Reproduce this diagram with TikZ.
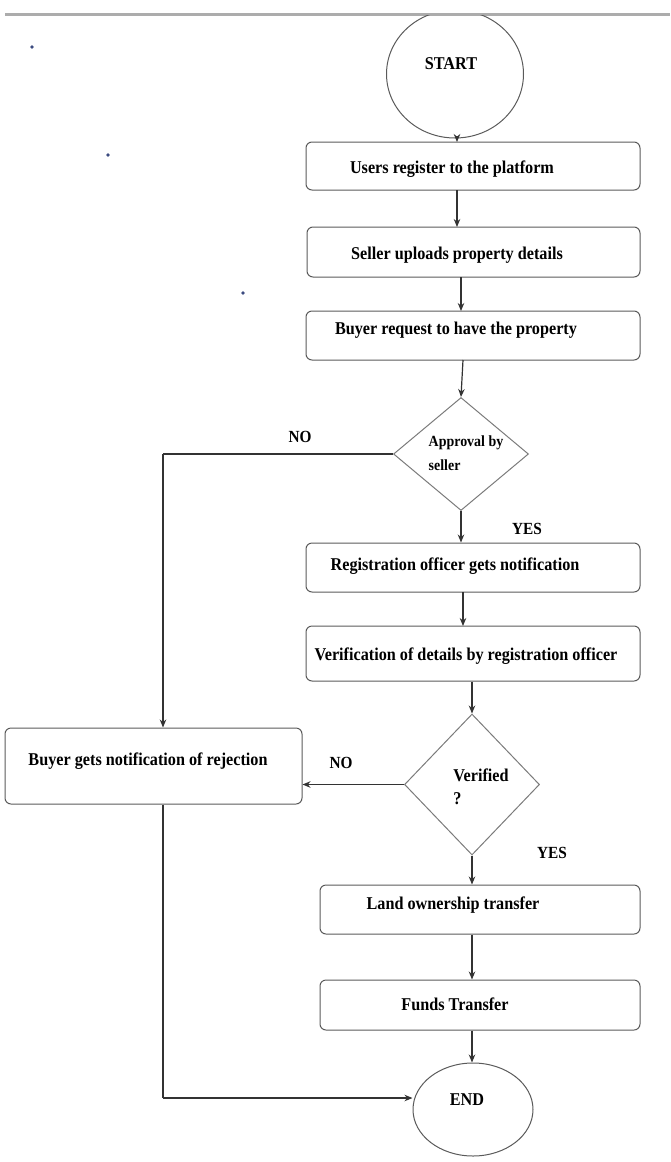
\documentclass[tikz,border=0pt]{standalone}
\usepackage{fontspec}
\setmainfont{Liberation Serif}[FakeStretch=0.9]
\usetikzlibrary{arrows.meta,shapes.geometric}
\definecolor{ln}{HTML}{333333}
\definecolor{bd}{HTML}{5A5A5A}
\definecolor{dotc}{HTML}{3B4A80}
\tikzset{
  stepbox/.style={draw=bd,line width=1pt,rounded corners=6pt,inner sep=0pt},
  term/.style={draw=bd,line width=1pt,ellipse,inner sep=0pt},
  decide/.style={draw=bd!80,line width=1pt,diamond,inner sep=0pt,aspect=1},
  txt/.style={inner sep=0pt,font=\bfseries\fontsize{18}{20}\selectfont},
  dtxt/.style={inner sep=0pt,align=left},
  conn/.style={draw=ln,line width=1.2pt,-{Stealth[length=8pt,width=6.5pt]}},
  plain/.style={draw=ln,line width=1.2pt},
  lbl/.style={inner sep=0pt,font=\bfseries\fontsize{17}{19}\selectfont},
}
\begin{document}
\begin{tikzpicture}[x=1pt,y=-1pt]
\useasboundingbox (0,0) rectangle (670,1162);
\draw[gray!65,line width=3pt] (5,14) -- (670,14);
\fill[dotc] (32,47) circle (1.8) (108,155) circle (1.8) (243,293) circle (1.8);
% shapes
\begin{scope}
\clip (0,15.5) rectangle (670,1162);
\node[term,minimum width=137pt,minimum height=128pt] (start) at (455,74) {};
\end{scope}
\node[stepbox,minimum width=334pt,minimum height=48pt] (b1) at (473,166) {};
\node[stepbox,minimum width=333pt,minimum height=50pt] (b2) at (473.5,252) {};
\node[stepbox,minimum width=334pt,minimum height=49pt] (b3) at (473,335.5) {};
\node[decide,minimum width=135pt,minimum height=113pt] (d1) at (461,454) {};
\node[stepbox,minimum width=334pt,minimum height=49pt] (b4) at (473,567.5) {};
\node[stepbox,minimum width=334pt,minimum height=55pt] (b5) at (473,653.5) {};
\node[decide,minimum width=135pt,minimum height=141pt] (d2) at (472,784.5) {};
\node[stepbox,minimum width=297pt,minimum height=76pt] (rej) at (153.5,766) {};
\node[stepbox,minimum width=320pt,minimum height=49pt] (b6) at (480,909.5) {};
\node[stepbox,minimum width=320pt,minimum height=50pt] (b7) at (480,1005) {};
\node[term,minimum width=120pt,minimum height=93pt] (end) at (473,1109.5) {};
% texts
\node[txt] (tstart) at (451,64) {START};
\node[txt] (t1) at (452,169) {Users register to the platform};
\node[txt] (t2) at (457,255) {Seller uploads property details};
\node[txt] (t3) at (456,330) {Buyer request to have the property};
\node[dtxt,font=\bfseries\fontsize{15.5}{24}\selectfont] (td1) at (466,453) {Approval by\\seller};
\node[txt] (t4) at (455,566) {Registration officer gets notification};
\node[txt] (t5) at (466,656) {Verification of details by registration officer};
\node[dtxt,font=\bfseries\fontsize{18}{23}\selectfont] (td2) at (481,787) {Verified\\?};
\node[txt] (trej) at (148,761) {Buyer gets notification of rejection};
\node[txt] (t6) at (453,905) {Land ownership transfer};
\node[txt] (t7) at (455,1004) {Funds Transfer};
\node[txt] (tend) at (467,1100) {END};
\node[lbl] (no1) at (300,437) {NO};
\node[lbl] (yes1) at (527,529) {YES};
\node[lbl] (no2) at (341,763) {NO};
\node[lbl] (yes2) at (552,853) {YES};
% connectors
\coordinate (c1) at (163,454);
\coordinate (c2) at (163,1098);
\draw[conn] (457,136) -- (457,142);
\draw[conn] (457,190) -- (457,227);
\draw[conn] (461,277) -- (461,311);
\draw[conn] (463,360) -- (d1.north);
\draw[plain] (d1.west) -- (c1);
\draw[conn] (c1) -- (c1 |- rej.north);
\draw[conn] (d1.south) -- (d1.south |- b4.north);
\draw[conn] (463,592) -- (463,626);
\draw[conn] (b5.south -| d2.north) -- (d2.north);
\draw[conn] (d2.west) -- (rej.east |- d2.west);
\draw[conn] (d2.south) -- (d2.south |- b6.north);
\draw[conn] (b6.south -| d2.south) -- (b7.north -| d2.south);
\draw[conn] (b7.south -| d2.south) -- (end.north -| d2.south);
\draw[plain] (c1 |- rej.south) -- (c2);
\draw[conn] (c2) -- (end.west |- c2);
\end{tikzpicture}
\end{document}
